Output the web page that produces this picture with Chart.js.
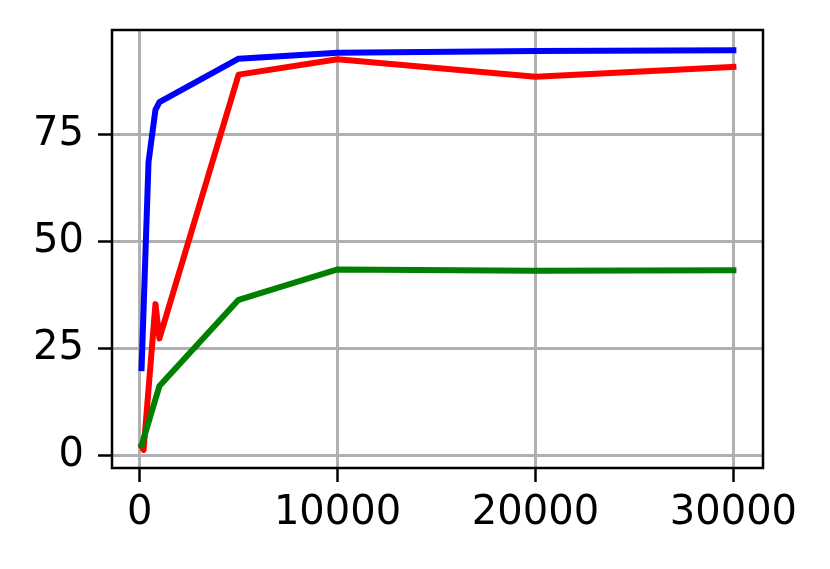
<!DOCTYPE html>
<html>
<head>
<meta charset="utf-8">
<script src="https://cdn.jsdelivr.net/npm/chart.js@4"></script>
<style>
    html, body { margin: 0; padding: 0; background: #fff; }
    #chart { display: block; }
</style>
</head>
<body>
<canvas id="chart" width="830" height="569"></canvas>
<script>
// Данные
const blueX = [100, 450, 800, 1000, 5000, 10000, 20000, 30000];
const blueY = [20.5, 68.5, 80.7, 82.5, 92.6, 94.0, 94.4, 94.6];

const redX = [100, 200, 800, 1000, 5000, 10000, 20000, 30000];
const redY = [2.3, 1.4, 35.4, 27.4, 88.9, 92.5, 88.4, 90.7];

const greenX = [100, 1000, 5000, 10000, 20000, 30000];
const greenY = [2.5, 16.3, 36.4, 43.5, 43.2, 43.3];

const xTicks = [0, 10000, 20000, 30000];
const yTicks = [0, 25, 50, 75];

const toPoints = (xs, ys) => xs.map((x, i) => ({ x, y: ys[i] }));

// Рамка вокруг области графика (как у matplotlib)
const framePlugin = {
    id: 'frame',
    afterDraw(chart) {
        const { ctx, chartArea: a } = chart;
        ctx.save();
        ctx.strokeStyle = '#000';
        ctx.lineWidth = 2.5;
        ctx.strokeRect(a.left, a.top, a.right - a.left, a.bottom - a.top);
        ctx.restore();
    }
};

const lineStyle = {
    showLine: true,
    pointRadius: 0,
    borderWidth: 6,
    borderJoinStyle: 'round',
    borderCapStyle: 'square',
    fill: false,
    tension: 0
};

new Chart(document.getElementById('chart').getContext('2d'), {
    type: 'scatter',
    data: {
        datasets: [
            { ...lineStyle, label: 'green', data: toPoints(greenX, greenY), borderColor: '#008000', order: 0 },
            { ...lineStyle, label: 'red', data: toPoints(redX, redY), borderColor: '#ff0000', order: 1 },
            { ...lineStyle, label: 'blue', data: toPoints(blueX, blueY), borderColor: '#0000ff', order: 2 }
        ]
    },
    options: {
        responsive: false,
        animation: false,
        devicePixelRatio: 1,
        layout: { padding: { left: 20, right: 67, top: 30, bottom: 10 } },
        plugins: {
            legend: { display: false },
            tooltip: { enabled: false }
        },
        scales: {
            x: {
                type: 'linear',
                min: -1395,
                max: 31495,
                afterBuildTicks: (s) => { s.ticks = xTicks.map(v => ({ value: v })); },
                afterFit: (s) => {
                    s.height = 569 - 468 - 10;
                    s.paddingLeft = 0;
                    s.paddingRight = 0;
                },
                grid: { color: '#b0b0b0', lineWidth: 3, tickColor: '#000', tickLength: 14, tickWidth: 2.5 },
                border: { display: false },
                ticks: {
                    color: '#000',
                    padding: 8,
                    maxRotation: 0,
                    font: { family: 'DejaVu Sans', size: 40 },
                    callback: (v) => String(v)
                }
            },
            y: {
                type: 'linear',
                min: -2.8,
                max: 99.3,
                afterBuildTicks: (s) => { s.ticks = yTicks.map(v => ({ value: v })); },
                afterFit: (s) => {
                    s.width = 112 - 20;
                    s.paddingTop = 0;
                    s.paddingBottom = 0;
                },
                grid: { color: '#b0b0b0', lineWidth: 3, tickColor: '#000', tickLength: 14, tickWidth: 2.5 },
                border: { display: false },
                ticks: {
                    color: '#000',
                    padding: 14,
                    font: { family: 'DejaVu Sans', size: 40 },
                    callback: (v) => String(v)
                }
            }
        }
    },
    plugins: [framePlugin]
});
</script>
</body>
</html>
